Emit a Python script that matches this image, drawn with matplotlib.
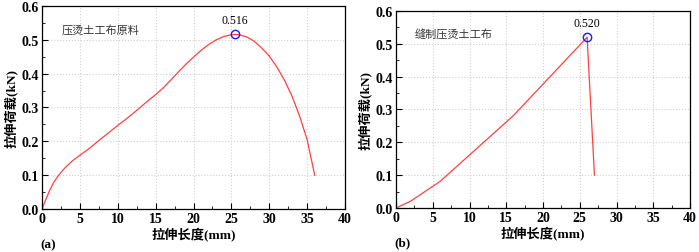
import numpy as np
import matplotlib.pyplot as plt
from matplotlib.ticker import MultipleLocator

plt.rcParams['font.family'] = ['Liberation Serif', 'Noto Sans CJK SC']

# panel (a): 压烫土工布原料
xa = [0, 0.5, 1, 1.5, 2, 2.5, 3, 4, 5, 6, 7, 8, 9, 10, 11, 12, 13, 14, 15, 16, 17, 18, 19, 20,
      21, 22, 23, 24, 25, 25.5, 26, 27, 28, 29, 30, 31, 32, 33, 34, 35, 36]
ya = [0, 0.028, 0.054, 0.077, 0.094, 0.108, 0.121, 0.142, 0.159, 0.175, 0.193, 0.211, 0.229,
      0.247, 0.264, 0.282, 0.301, 0.320, 0.338, 0.358, 0.381, 0.405, 0.428, 0.449, 0.469, 0.486,
      0.500, 0.510, 0.515, 0.516, 0.515, 0.509, 0.496, 0.476, 0.452, 0.420, 0.381, 0.334, 0.275,
      0.205, 0.100]
peak_a = (25.5, 0.516)

# panel (b): 缝制压烫土工布
xb = [0, 2, 6, 16, 26, 27]
yb = [0, 0.021, 0.081, 0.282, 0.520, 0.100]
peak_b = (26, 0.520)

fig = plt.figure(figsize=(6.99, 2.53), dpi=100)
ax1 = fig.add_axes([42 / 699, 1 - 210 / 253, 303 / 699, 203 / 253])
ax2 = fig.add_axes([396 / 699, 1 - 209 / 253, 294 / 699, 197 / 253])

panels = [
    (ax1, xa, ya, peak_a, '0.516', '压烫土工布原料', '(a)'),
    (ax2, xb, yb, peak_b, '0.520', '缝制压烫土工布', '(b)'),
]

for ax, x, y, pk, pk_txt, name, tag in panels:
    ax.plot(x, y, color='#ff4040', lw=0.9)
    ax.plot(pk[0], pk[1], 'o', mfc='none', mec='#1a1aff', ms=6, mew=1.0)
    ax.text(pk[0], pk[1] + 0.025, pk_txt, ha='center', va='bottom', fontsize=8.5)
    ax.text(0.065, 0.87, name, transform=ax.transAxes, fontsize=8, color='#333333')
    ax.set_xlim(0, 40)
    ax.set_ylim(0, 0.6)
    ax.xaxis.set_major_locator(MultipleLocator(5))
    ax.xaxis.set_minor_locator(MultipleLocator(2.5))
    ax.yaxis.set_major_locator(MultipleLocator(0.1))
    ax.yaxis.set_minor_locator(MultipleLocator(0.05))
    ax.yaxis.set_major_formatter(plt.FormatStrFormatter('%.1f'))
    ax.tick_params(which='both', direction='in', top=False, right=False, labelsize=10, pad=2)
    ax.tick_params(which='major', length=4)
    ax.tick_params(which='minor', length=2)
    for lab in ax.get_xticklabels() + ax.get_yticklabels():
        lab.set_fontweight('bold')
    ax.grid(True, which='major', color='#d0d0d0', linestyle=':', linewidth=0.8)
    for s in ax.spines.values():
        s.set_linewidth(0.9)
    ax.set_xlabel('拉伸长度(mm)', fontsize=9.5, fontweight='bold', labelpad=2)
    ax.set_ylabel('拉伸荷载(kN)', fontsize=9.5, fontweight='bold', labelpad=3)
    ax.text(-0.005, -0.175, tag, transform=ax.transAxes, fontsize=9.5, va='center',
            fontweight='bold')

fig.savefig('out.png', dpi=100)
